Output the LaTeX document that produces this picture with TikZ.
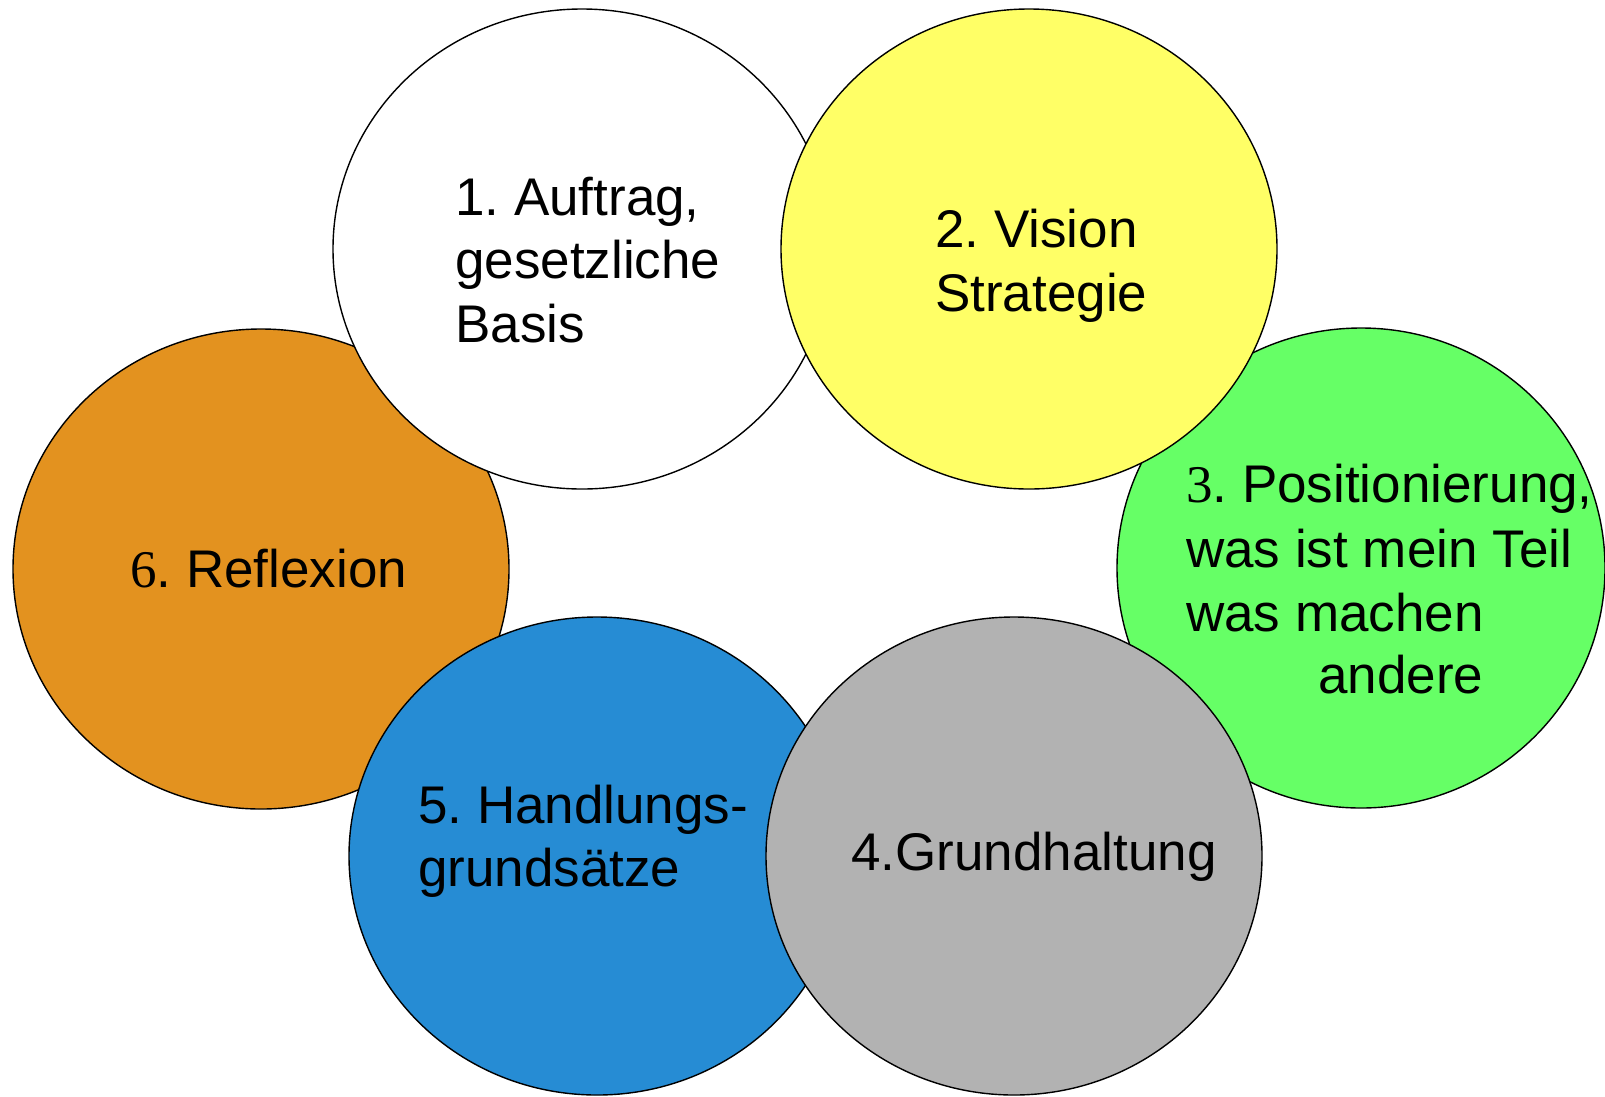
\documentclass[tikz,border=0pt]{standalone}
\usepackage{fontspec}
\setmainfont{Liberation Sans}
\newfontfamily\numserif{Liberation Serif}
\usetikzlibrary{shapes.geometric}
\frenchspacing
\definecolor{corange}{RGB}{227,146,31}
\definecolor{cyellow}{RGB}{255,255,102}
\definecolor{cgreen}{RGB}{102,255,102}
\definecolor{cblue}{RGB}{38,140,212}
\definecolor{cgray}{RGB}{178,178,178}
\tikzset{
  blob/.style={ellipse, draw=black, line width=1.4pt, inner sep=0pt, minimum width=496pt, minimum height=480pt},
  lbl/.style={anchor=base west, inner sep=0pt, font=\fontsize{53}{63}\selectfont, text=black}
}
\begin{document}
\frenchspacing
\begin{tikzpicture}[x=1pt,y=-1pt]
\useasboundingbox (0,0) rectangle (1605,1096);
\fill[white] (0,0) rectangle (1605,1096);
% ellipses in stacking order
\node[blob, fill=corange] (e6) at (261,569) {};
\node[blob, fill=cgreen, minimum width=488pt] (e3) at (1361,568) {};
\node[blob, fill=white, minimum width=498pt] (e1) at (582,249) {};
\node[blob, fill=cyellow] (e2) at (1029,249) {};
\node[blob, fill=cblue, minimum height=478pt] (e5) at (597,856) {};
\node[blob, fill=cgray, minimum height=478pt] (e4) at (1014,856) {};
% texts
\node[lbl] (t1a) at (455,215) {1. Auftrag,};
\node[lbl] (t1b) at (455,278) {gesetzliche};
\node[lbl] (t1c) at (455,342) {Basis};
\node[lbl] (t2a) at (935,247) {2. Vision};
\node[lbl] (t2b) at (935,311) {Strategie};
\node[lbl] (t3a) at (1186,502) {{\numserif 3}. Positionierung,};
\node[lbl] (t3b) at (1186,567) {was ist mein Teil};
\node[lbl] (t3c) at (1186,631) {was machen};
\node[lbl] (t3d) at (1318,693) {andere};
\node[lbl] (t4a) at (851,870) {4.Grundhaltung};
\node[lbl] (t5a) at (418,823) {5. Handlungs-};
\node[lbl] (t5b) at (418,886) {grundsätze};
\node[lbl] (t6a) at (130,587) {{\numserif 6}. Reflexion};
\end{tikzpicture}
\end{document}
